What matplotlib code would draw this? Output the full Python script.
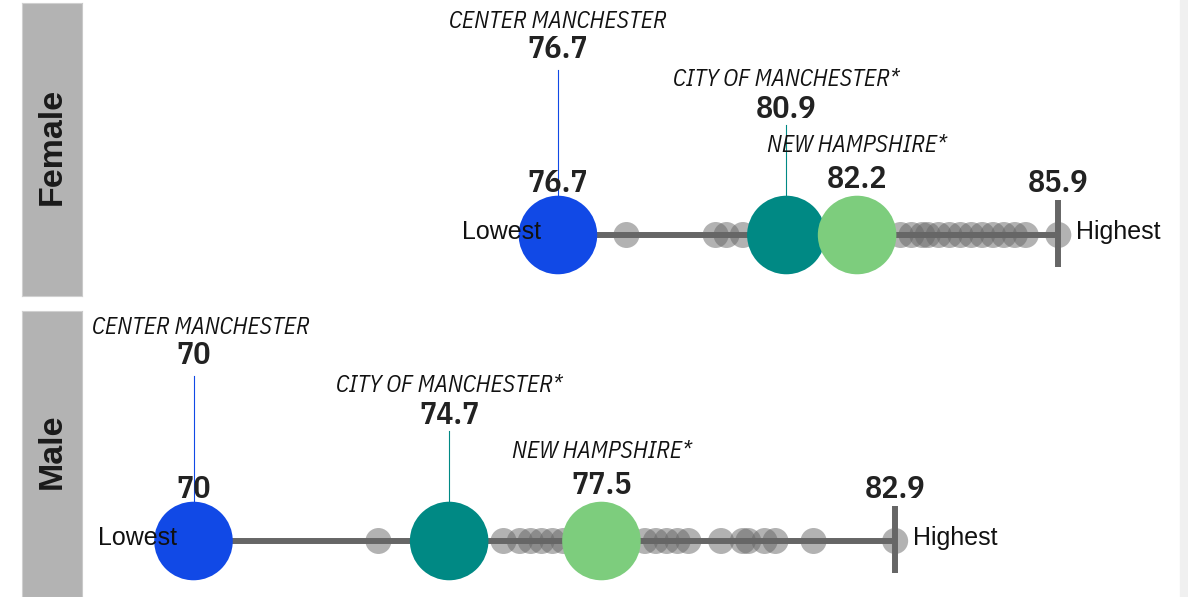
import matplotlib.pyplot as plt
from matplotlib.patches import Rectangle

# ---- data -------------------------------------------------------------
sexes = ['Female', 'Male']
lowest = [76.7, 70.0]
highest = [85.9, 82.9]
center_manchester = [76.7, 70.0]
city_of_manchester = [80.9, 74.7]
new_hampshire = [82.2, 77.5]

# other NH towns (grey dots)
female_towns = [77.96, 79.6, 79.8, 80.1, 80.5, 81.6, 83.0, 83.2, 83.4, 83.5,
                83.7, 83.9, 84.1, 84.3, 84.5, 84.7, 84.9, 85.1, 85.3, 85.9]
male_towns = [73.4, 75.7, 76.0, 76.2, 76.4, 76.6, 76.8, 78.3, 78.5, 78.7,
              78.9, 79.1, 79.7, 80.1, 80.2, 80.5, 80.7, 81.4, 82.9]
towns = [female_towns, male_towns]

group_names = ['CENTER MANCHESTER', 'CITY OF MANCHESTER*', 'NEW HAMPSHIRE*']
group_values = [center_manchester, city_of_manchester, new_hampshire]
group_colors = ['#1149E6', '#008984', '#7DCD7D']

# ---- layout (pixels) --------------------------------------------------
W, H = 1188, 597
panels = [(3, 296, 235), (311, 597, 541)]   # top, bottom, line y
strip_x0, strip_x1 = 22, 82
plot_x1 = 1178
xlim = (67.95, 88.1)

NARROW = ['IBM Plex Sans Condensed', 'DejaVu Sans']
SANS = ['Liberation Sans', 'DejaVu Sans']

# label / value heights above the line for each group (pixels)
label_dy = [214, 155, 90]
value_dy = [186, 126, 56]
conn_top = [165, 110, None]

fig = plt.figure(figsize=(W / 100, H / 100), dpi=100)
fig.add_artist(Rectangle((1180 / W, 0), 8 / W, 1, transform=fig.transFigure,
                         color='#f0f0f0', zorder=0))

clamp = []
for i, sex in enumerate(sexes):
    top, bot, ly = panels[i]
    sax = fig.add_axes([strip_x0 / W, 1 - bot / H, (strip_x1 - strip_x0) / W, (bot - top) / H])
    sax.set_facecolor('#b3b3b3')
    for s in sax.spines.values():
        s.set_color('#d0d0d0')
    sax.set_xticks([])
    sax.set_yticks([])
    sax.text(0.5, 0.51, sex, rotation=90, ha='center', va='center', fontsize=24.5,
             fontweight='bold', color='#1a1a1a', family=SANS, transform=sax.transAxes)

    ax = fig.add_axes([strip_x1 / W, 1 - bot / H, (plot_x1 - strip_x1) / W, (bot - top) / H])
    ax.set_xlim(*xlim)
    ax.set_ylim(-(bot - ly), ly - top)
    ax.axis('off')
    ax.axvline(xlim[0], color='#c8c8c8', lw=1.2)

    lo, hi = lowest[i], highest[i]
    ax.scatter(towns[i], [0] * len(towns[i]), s=350, color='#666666', alpha=0.5,
               edgecolors='none', zorder=1)
    ax.plot([lo, hi], [0, 0], color='#666666', lw=4.3, solid_capstyle='butt', zorder=2)
    ax.plot([hi, hi], [-32, 35], color='#666666', lw=4.3, solid_capstyle='butt', zorder=2)

    for g, name in enumerate(group_names):
        v = group_values[g][i]
        c = group_colors[g]
        if conn_top[g] is not None:
            ax.plot([v, v], [40, conn_top[g]], color=c, lw=0.8, zorder=2.5)
        ax.scatter([v], [0], s=3200, color=c, edgecolors='none', zorder=3)
        t = ax.text(v, label_dy[g], name, ha='center', va='center', fontsize=17,
                    style='italic', family=NARROW, color='#111111', zorder=5)
        clamp.append((ax, t))
        ax.text(v, value_dy[g], f'{v:g}', ha='center', va='center', fontsize=23,
                fontweight=600, family=NARROW, color='#222222', zorder=5)

    # value of the lowest (above the blue circle) and the highest
    ax.text(lo, 52, f'{lo:g}', ha='center', va='center', fontsize=23,
            fontweight=600, family=NARROW, color='#222222', zorder=5)
    ax.text(hi, 52, f'{hi:g}', ha='center', va='center', fontsize=23,
            fontweight=600, family=NARROW, color='#222222', zorder=5)
    ax.annotate('Lowest', (lo, 0), xytext=(-12, 2), textcoords='offset points',
                ha='right', va='center', fontsize=18, family=SANS, color='#111111', zorder=6)
    ax.annotate('Highest', (hi, 0), xytext=(13, 2), textcoords='offset points',
                ha='left', va='center', fontsize=18, family=SANS, color='#111111', zorder=6)

# keep group labels inside their panel
fig.canvas.draw()
r = fig.canvas.get_renderer()
for ax, t in clamp:
    bb = t.get_window_extent(r)
    ab = ax.get_window_extent(r)
    if bb.x0 < ab.x0 + 10:
        t.set_ha('left')
        t.set_x(ax.transData.inverted().transform((ab.x0 + 10, 0))[0])

fig.savefig('out.png', dpi=100, facecolor='white')
